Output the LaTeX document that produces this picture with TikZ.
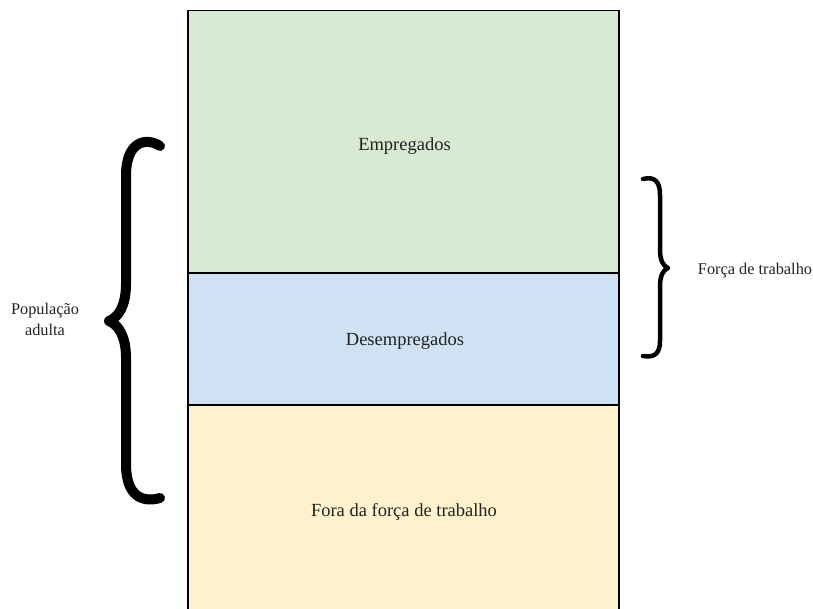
\documentclass[tikz,border=0pt]{standalone}
\usepackage{fontspec}
\setmainfont{Liberation Serif}
\definecolor{empfill}{HTML}{D9EAD3}
\definecolor{desfill}{HTML}{CFE2F3}
\definecolor{forafill}{HTML}{FFF2CC}
\definecolor{txtcol}{HTML}{222222}
\tikzset{
  band/.style={draw=black, line width=1.6pt, minimum width=431pt, inner sep=0pt, outer sep=0pt},
  bigtxt/.style={font=\fontsize{18.5}{22}\selectfont, text=txtcol, anchor=base, inner sep=0pt},
  smalltxt/.style={font=\fontsize{16.3}{21}\selectfont, text=txtcol, inner sep=0pt},
  bracebig/.style={line width=10pt, line cap=round, line join=round},
  bracesmall/.style={line width=4.5pt, line cap=round, line join=round}
}
\begin{document}
\begin{tikzpicture}[x=1pt,y=-1pt]
\useasboundingbox (0,0) rectangle (813,609);
% bands
\node[band, fill=empfill, minimum height=262.5pt] (emp) at (403.5,141.75) {};
\node[band, fill=desfill, minimum height=132pt] (des) at (403.5,339) {};
\node[band, fill=forafill, minimum height=225pt] (fora) at (403.5,517.5) {};
% labels
\node[bigtxt] (lemp) at (404.5,151) {Empregados};
\node[bigtxt] (ldes) at (405,345) {Desempregados};
\node[bigtxt] (lfora) at (404,516) {Fora da força de trabalho};
\node[smalltxt, align=center] (lpop) at (45,319) {População\\adulta};
\node[smalltxt, anchor=base] (lforca) at (755,275) {Força de trabalho};
% left brace
\draw[bracebig] (160,146) .. controls (146,137) and (126,141) .. (126,176)
  -- (126,284) .. controls (126,305) and (119,317) .. (109,321)
  .. controls (119,325) and (126,337) .. (126,358)
  -- (126,464) .. controls (126,496) and (142,503) .. (160,498);
% right brace
\draw[bracesmall] (643,179) .. controls (655,176) and (660,182) .. (660,195)
  -- (660,250) .. controls (660,260) and (663,266) .. (668,268)
  .. controls (663,270) and (660,276) .. (660,286)
  -- (660,341) .. controls (660,353) and (655,358) .. (643,356);
\end{tikzpicture}
\end{document}
